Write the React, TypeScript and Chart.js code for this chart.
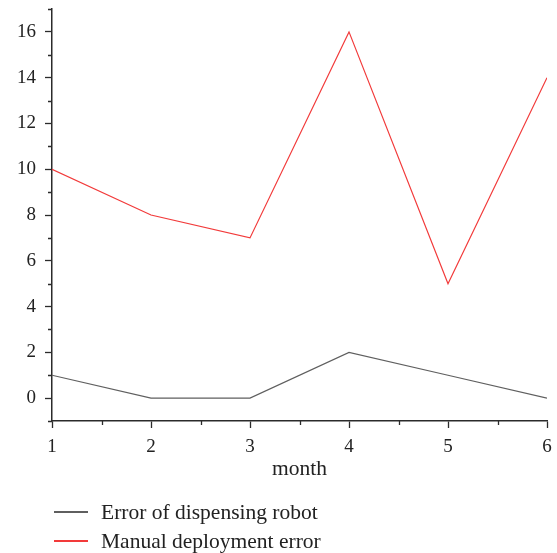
import React, { useEffect, useRef } from "react";
import { Chart, registerables } from "chart.js";

Chart.register(...registerables);

const months = [1, 2, 3, 4, 5, 6];
const robotErrors = [1, 0, 0, 2, 1, 0];
const manualErrors = [10, 8, 7, 16, 5, 14];
const yTickValues = [0, 2, 4, 6, 8, 10, 12, 14, 16];
const yMinorValues = [-1, 1, 3, 5, 7, 9, 11, 13, 15, 17];
const xTickValues = [1, 2, 3, 4, 5, 6];
const xMinorValues = [1.5, 2.5, 3.5, 4.5, 5.5];
const seriesNames = ["Error of dispensing robot", "Manual deployment error"];
const seriesColors = ["#5f5f5f", "#f23a3a"];

const FONT = "'Liberation Serif', 'Times New Roman', serif";
const AXIS = "#2b2b2b";

const minorTicks = {
  id: "minorTicks",
  afterDraw(chart: any) {
    const { ctx, chartArea } = chart;
    const xs = chart.scales.x;
    const ys = chart.scales.y;
    ctx.save();
    ctx.strokeStyle = AXIS;
    ctx.lineWidth = 1.3;
    ctx.beginPath();
    for (const v of yMinorValues) {
      const y = Math.round(ys.getPixelForValue(v)) + 0.5;
      ctx.moveTo(chartArea.left - 4, y);
      ctx.lineTo(chartArea.left, y);
    }
    for (const v of xMinorValues) {
      const x = Math.round(xs.getPixelForValue(v)) + 0.5;
      ctx.moveTo(x, chartArea.bottom);
      ctx.lineTo(x, chartArea.bottom + 4);
    }
    ctx.stroke();
    ctx.restore();
  },
};

export default function App() {
  const ref = useRef<HTMLCanvasElement | null>(null);

  useEffect(() => {
    if (!ref.current) return;
    const chart = new Chart(ref.current, {
      type: "line",
      data: {
        datasets: [
          {
            label: seriesNames[0],
            data: months.map((m, i) => ({ x: m, y: robotErrors[i] })),
            borderColor: seriesColors[0],
            borderWidth: 1.2,
            pointRadius: 0,
            tension: 0,
          },
          {
            label: seriesNames[1],
            data: months.map((m, i) => ({ x: m, y: manualErrors[i] })),
            borderColor: seriesColors[1],
            borderWidth: 1.2,
            pointRadius: 0,
            tension: 0,
          },
        ],
      },
      options: {
        animation: false,
        responsive: true,
        maintainAspectRatio: false,
        layout: { padding: { top: 9, right: 10, left: 0, bottom: 73 } },
        plugins: {
          legend: { display: false },
          tooltip: { enabled: false },
        },
        scales: {
          x: {
            type: "linear",
            min: 1,
            max: 6,
            afterBuildTicks: (s: any) => {
              s.ticks = xTickValues.map((v) => ({ value: v }));
            },
            afterFit: (s: any) => {
              s.height = 59;
              s.paddingLeft = 0;
              s.paddingRight = 0;
            },
            grid: {
              drawOnChartArea: false,
              drawTicks: true,
              tickLength: 7,
              tickColor: AXIS,
              tickWidth: 1.3,
            },
            border: { display: true, color: AXIS, width: 1.5 },
            ticks: {
              color: "#222",
              padding: 8,
              maxRotation: 0,
              font: { family: FONT, size: 19 },
            },
            title: {
              display: true,
              text: "month",
              color: "#222",
              padding: { top: 0, bottom: 0 },
              font: { family: FONT, size: 21.5, lineHeight: 1 },
            },
          },
          y: {
            type: "linear",
            min: -1,
            max: 17,
            afterBuildTicks: (s: any) => {
              s.ticks = yTickValues.map((v) => ({ value: v }));
            },
            afterFit: (s: any) => {
              s.width = 52;
              s.paddingTop = 0;
              s.paddingBottom = 0;
            },
            grid: {
              drawOnChartArea: false,
              drawTicks: true,
              tickLength: 7,
              tickColor: AXIS,
              tickWidth: 1.3,
            },
            border: { display: true, color: AXIS, width: 1.5 },
            ticks: {
              color: "#222",
              padding: 9,
              font: { family: FONT, size: 19 },
            },
          },
        },
      },
      plugins: [minorTicks],
    });
    return () => chart.destroy();
  }, []);

  const legendRow = (i: number, top: number) => (
    <div
      key={i}
      style={{
        position: "absolute",
        left: 54,
        top,
        height: 24,
        display: "flex",
        alignItems: "center",
        fontFamily: FONT,
        fontSize: 21.5,
        color: "#222",
        whiteSpace: "nowrap",
      }}
    >
      <div
        style={{
          width: 34,
          height: 1.5,
          background: seriesColors[i],
          marginRight: 13,
          flex: "none",
        }}
      />
      <span>{seriesNames[i]}</span>
    </div>
  );

  return (
    <div
      style={{
        position: "absolute",
        left: 0,
        top: 0,
        width: 557,
        height: 553,
        background: "#fff",
      }}
    >
      <canvas ref={ref} />
      {legendRow(0, 500)}
      {legendRow(1, 529)}
    </div>
  );
}
